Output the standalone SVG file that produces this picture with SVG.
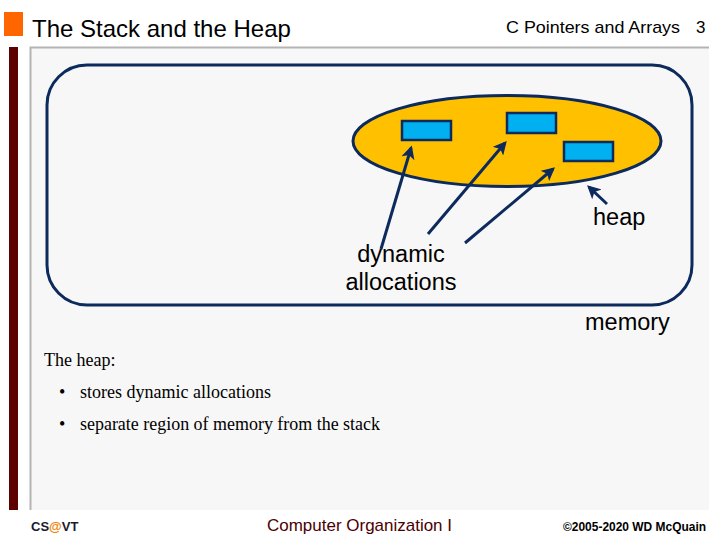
<svg xmlns="http://www.w3.org/2000/svg" width="720" height="540" viewBox="0 0 720 540">
<style>
.sans{font-family:"Liberation Sans",Arial,sans-serif}
.serif{font-family:"Liberation Serif","Times New Roman",serif}
.lbl{font-family:"Liberation Sans",Arial,sans-serif;font-size:23.5px;fill:#000}
.conn{stroke:#0c2a5c;stroke-width:3;fill:none;marker-end:url(#ah)}
.blk{fill:#00b0f0;stroke:#0c2a5c;stroke-width:2.5}
.bt{font-family:"Liberation Serif","Times New Roman",serif;font-size:18px;fill:#000}
</style>
<defs>
<marker id="ah" viewBox="0 0 10 10" refX="8" refY="5" markerWidth="4.5" markerHeight="4.5" orient="auto" markerUnits="strokeWidth">
<path d="M0,0 L10,5 L0,10 L2.5,5 Z" fill="#0c2a5c"/>
</marker>
</defs>
<rect width="720" height="540" fill="#fff"/>
<g id="header">
<rect x="4" y="12" width="19" height="24" fill="#ff6600"/>
<text class="sans" x="32" y="37" font-size="24" fill="#000">The Stack and the Heap</text>
<text class="sans" x="506" y="33" font-size="17" textLength="174" lengthAdjust="spacingAndGlyphs" fill="#000">C Pointers and Arrays</text>
<text class="sans" x="696" y="33" font-size="17" fill="#000">3</text>
</g>
<g id="panel">
<rect x="9" y="47" width="9" height="463" fill="#5c0000"/>
<rect x="30" y="47" width="679" height="463" fill="#f7f7f7"/>
<path d="M30.5,510 V47.5 H709" stroke="#b4b4b4" stroke-width="2" fill="none"/>
</g>
<g id="memory">
<rect x="47" y="65" width="645" height="240" rx="40" ry="40" fill="none" stroke="#0c2a5c" stroke-width="3"/>
<text class="lbl" x="585" y="330">memory</text>
</g>
<g id="heap">
<ellipse cx="507" cy="141" rx="154" ry="45.5" fill="#ffc000" stroke="#0c2a5c" stroke-width="3"/>
<text class="lbl" x="593" y="225">heap</text>
</g>
<g id="block1"><rect class="blk" x="402" y="121" width="49" height="19"/></g>
<g id="block2"><rect class="blk" x="507" y="113" width="49" height="20"/></g>
<g id="block3"><rect class="blk" x="564" y="142" width="49" height="19"/></g>
<g id="dynamic">
<text class="lbl" x="401" y="262" text-anchor="middle">dynamic</text>
<text class="lbl" x="401" y="290" text-anchor="middle">allocations</text>
</g>
<g id="connectors">
<line class="conn" x1="381" y1="249" x2="411" y2="148"/>
<line class="conn" x1="428" y1="234" x2="505" y2="143"/>
<line class="conn" x1="465" y1="243" x2="553" y2="169"/>
<line class="conn" x1="607" y1="204" x2="589" y2="187"/>
</g>
<g id="notes">
<text class="bt" x="44" y="366">The heap:</text>
<text class="bt" x="59" y="398">•</text>
<text class="bt" x="80" y="398">stores dynamic allocations</text>
<text class="bt" x="59" y="430">•</text>
<text class="bt" x="80" y="430" textLength="300" lengthAdjust="spacingAndGlyphs">separate region of memory from the stack</text>
</g>
<g id="footer">
<text class="sans" x="31" y="531" font-size="13" font-weight="bold" fill="#1a1a2e">CS<tspan fill="#f08000">@</tspan>VT</text>
<text class="sans" x="267" y="531" font-size="17" fill="#4b0000" textLength="185" lengthAdjust="spacingAndGlyphs">Computer Organization I</text>
<text class="sans" x="563" y="531" font-size="12" font-weight="bold" fill="#000" textLength="143" lengthAdjust="spacingAndGlyphs">©2005-2020 WD McQuain</text>
</g>
</svg>
